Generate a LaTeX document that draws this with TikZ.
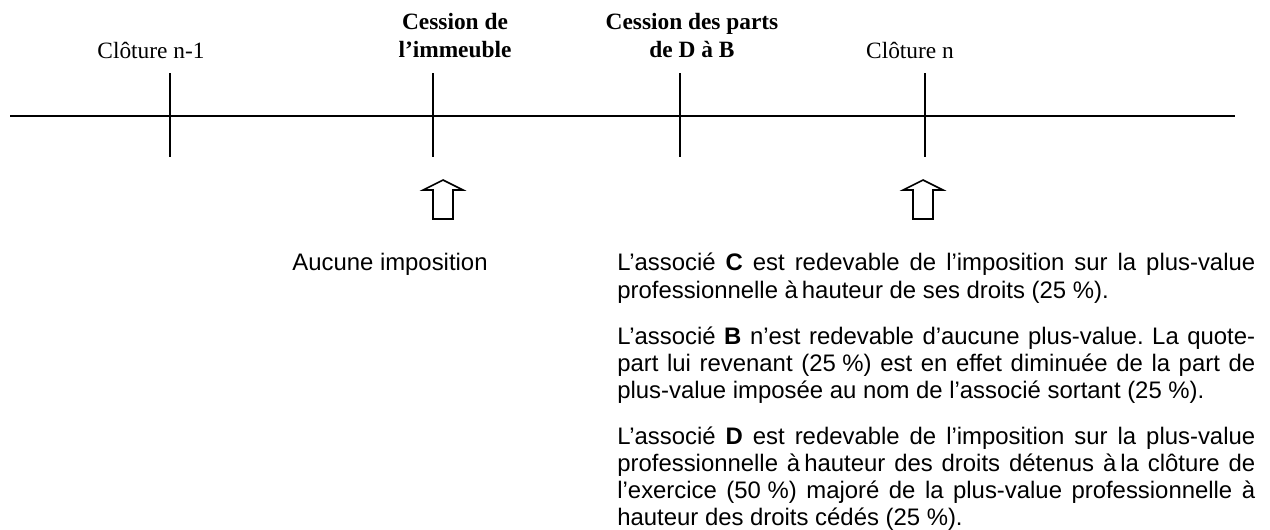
\documentclass[tikz,border=0pt]{standalone}
\usepackage{fontspec}
\setmainfont{Liberation Serif}
\newfontfamily\arial{Liberation Sans}
\usetikzlibrary{positioning}
\tikzset{>=latex}
\frenchspacing
\newcommand\pct[1]{\mbox{#1 \%}}

\tikzset{
  axe/.style={line width=1.1pt},
  fleche/.style={line width=0.9pt},
  date/.style={font=\fontsize{13.3}{15.4}\selectfont, anchor=base, inner sep=0pt},
  titre/.style={date, font=\fontsize{13.3}{15.4}\selectfont\bfseries, align=center},
  impot/.style={font=\arial\fontsize{13.6}{15.4}\selectfont, inner sep=0pt},
  para/.style={impot, text width=12.76cm, align=justify, anchor=north west},
}

\begin{document}
\begin{tikzpicture}[x=0.02cm,y=-0.02cm]
  \useasboundingbox (0,0) rectangle (1270,529);
  % axe du temps
  \draw[axe] (10,116) -- (1235,116);
  \foreach \x in {170,433,680,925}
    \draw[axe] (\x,73) -- (\x,157);
  \node[date]  (clotA)    at (151,58) {Clôture n-1};
  \node[titre] (immeuble) at (455,57) {Cession de\\l’immeuble};
  \node[titre] (parts)    at (692,57) {Cession des parts\\de D à B};
  \node[date]  (clotB)    at (910,58) {Clôture n};
  % fleches
  \foreach \x in {443,923}
    \draw[fleche] (\x,219) ++(-10,0) -- ++(0,-29) -- ++(-10,0) -- ++(20,-10)
      -- ++(20,10) -- ++(-10,0) -- ++(0,29) -- cycle;
  % imposition
  \node[impot, anchor=base west] (aucune) at (292,270) {Aucune imposition};
  \node[para] (assocC) at (617,253)
    {L’associé \textbf{C} est redevable de l’imposition sur la plus-value \linebreak
     professionnelle à\,hauteur de ses droits (\pct{25}).};
  \node[para, below=0.46cm of assocC.south west, anchor=north west] (assocB)
    {L’associé \textbf{B} n’est redevable d’aucune plus-value. La quote-\linebreak
     part lui revenant (\pct{25}) est en effet diminuée de la part de \linebreak
     plus-value imposée au nom de l’associé sortant (\pct{25}).};
  \node[para, below=0.46cm of assocB.south west, anchor=north west] (assocD)
    {L’associé \textbf{D} est redevable de l’imposition sur la plus-value \linebreak
     professionnelle à\,hauteur des droits détenus à\,la clôture de \linebreak
     l’exercice (\pct{50}) majoré de la plus-value professionnelle à \linebreak
     hauteur des droits cédés (\pct{25}).};
\end{tikzpicture}
\end{document}
